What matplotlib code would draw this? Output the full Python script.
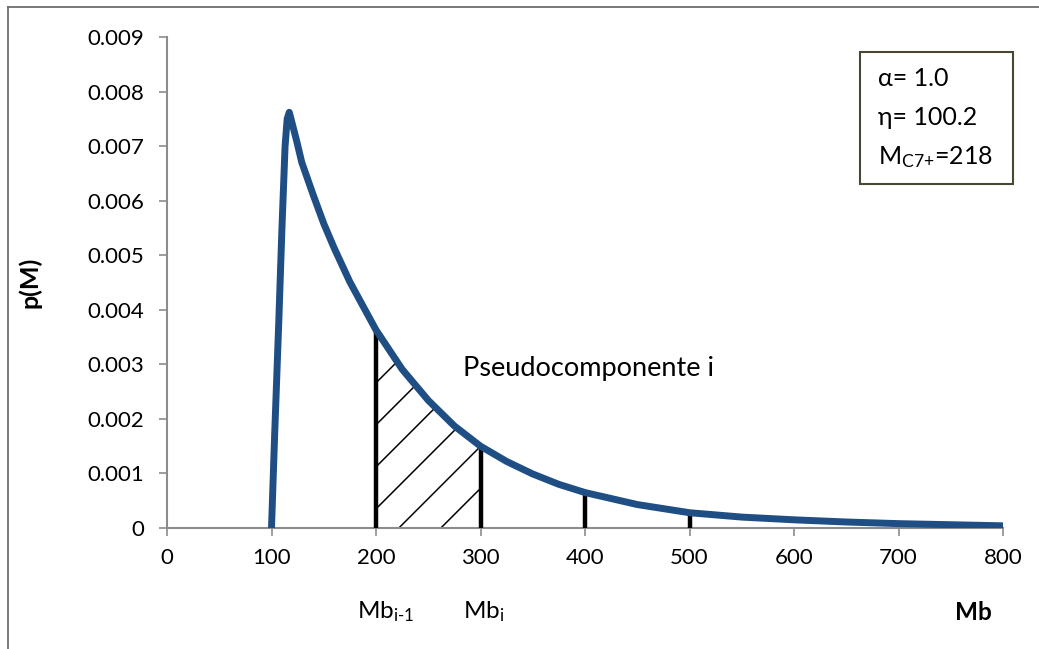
import matplotlib
matplotlib.use("Agg")
import matplotlib.pyplot as plt
from matplotlib.patches import Polygon, Rectangle
from matplotlib.lines import Line2D
import numpy as np

plt.rcParams['font.family'] = ['Lato', 'DejaVu Sans']
plt.rcParams['mathtext.fontset'] = 'custom'
plt.rcParams['mathtext.rm'] = 'Lato'
plt.rcParams['mathtext.it'] = 'Lato'

# molecular weight vs probability density of the C7+ fraction
mb = [100, 103, 107, 110, 113, 115, 117, 120, 124, 129, 140, 150, 160, 175,
      200, 225, 250, 275, 300, 325, 350, 375, 400, 450, 500, 550, 600, 650,
      700, 750, 800]
pm = [0, 0.0017, 0.0038, 0.0055, 0.0070, 0.0075, 0.00762, 0.0074, 0.0071,
      0.0067, 0.00610, 0.00558, 0.00513, 0.00451, 0.00363, 0.00291, 0.00234,
      0.00187, 0.00150, 0.00122, 0.00099, 0.00080, 0.00065, 0.00043, 0.00028,
      0.00020, 0.00015, 0.00011, 0.00008, 0.00006, 0.00004]

# cut points between pseudocomponents
cuts = [200, 300, 400, 500]
cut_p = [0.00363, 0.00150, 0.00065, 0.00028]

xticks = [0, 100, 200, 300, 400, 500, 600, 700, 800]
yticks = [0, 0.001, 0.002, 0.003, 0.004, 0.005, 0.006, 0.007, 0.008, 0.009]
ytick_labels = ["0", "0.001", "0.002", "0.003", "0.004", "0.005", "0.006",
                "0.007", "0.008", "0.009"]

params = [r"α= 1.0", r"η= 100.2", r"M$_{\text{C7+}}$=218"]

W, H, DPI = 10.39, 6.49, 100
fig = plt.figure(figsize=(W, H), dpi=DPI)
ax = fig.add_axes([167 / 1039, 1 - 528 / 649, 836 / 1039, 491 / 649])

grey = '#8c8c8c'
blue = '#1f4e85'

ax.set_xlim(0, 800)
ax.set_ylim(0, 0.009)

# hatched area of pseudocomponent i
mb_arr = np.array(mb)
pm_arr = np.array(pm)
sel = (mb_arr >= cuts[0]) & (mb_arr <= cuts[1])
verts = [(cuts[0], 0)] + list(zip(mb_arr[sel], pm_arr[sel])) + [(cuts[1], 0)]
region = Polygon(verts, closed=True, facecolor='none', edgecolor='none')
ax.add_patch(region)

# diagonal hatch lines at 45 degrees on screen, clipped to the region
px_x = 836 / 800
px_y = 491 / 0.009
slope = px_x / px_y
spacing = 42 / px_y
xs = np.array([cuts[0] - 50, cuts[1] + 50])
for k in range(-2, 14):
    ys = 0.0042 - k * spacing + (xs - cuts[0]) * slope
    ln, = ax.plot(xs, ys, color='black', lw=1.1, zorder=2)
    ln.set_clip_path(region)

ax.vlines(cuts, 0, cut_p, color='black', lw=3.2, zorder=3)
ax.plot(mb, pm, color=blue, lw=5, solid_capstyle='round',
        solid_joinstyle='round', zorder=4)

ax.set_xticks(xticks)
ax.set_yticks(yticks)
ax.set_yticklabels(ytick_labels)
ax.tick_params(axis='both', colors=grey, labelcolor='black', labelsize=16,
               length=5.5, width=1.2, direction='out')
ax.tick_params(axis='y', pad=11)
ax.tick_params(axis='x', pad=9)
for side in ['top', 'right']:
    ax.spines[side].set_visible(False)
for side in ['left', 'bottom']:
    ax.spines[side].set_color(grey)
    ax.spines[side].set_linewidth(1.5)

ax.set_ylabel("p(M)", fontsize=18, fontweight='bold')
ax.yaxis.set_label_coords(-0.150, 0.5)
ax.text(283, 0.00293, "Pseudocomponente i", fontsize=19.5, va='center')

fig.text(973 / 1039, 1 - 613 / 649, "Mb", fontsize=17.5, fontweight='bold',
         ha='center', va='center')
fig.text(357 / 1039, 1 - 612 / 649, r"Mb$_{\text{i-1}}$",
         fontsize=17.5, ha='left', va='center')
fig.text(463 / 1039, 1 - 612 / 649, r"Mb$_{\text{i}}$",
         fontsize=17.5, ha='left', va='center')

# parameter box
fig.patches.append(Rectangle((860 / 1039, 1 - 184 / 649), 153 / 1039,
                             132 / 649, transform=fig.transFigure,
                             facecolor='white', edgecolor='#4a4634', lw=1.5))
for i, s in enumerate(params):
    fig.text(878 / 1039, 1 - (78 + 39.5 * i) / 649, s, fontsize=18,
             ha='left', va='center')

# outer chart border (top and left edges)
fig.add_artist(Line2D([8 / 1039, 1], [1 - 7 / 649, 1 - 7 / 649],
                      transform=fig.transFigure, color='#6e6e6e', lw=1.3))
fig.add_artist(Line2D([8 / 1039, 8 / 1039], [0, 1 - 7 / 649],
                      transform=fig.transFigure, color='#6e6e6e', lw=1.3))

fig.savefig("out.png", dpi=DPI)
